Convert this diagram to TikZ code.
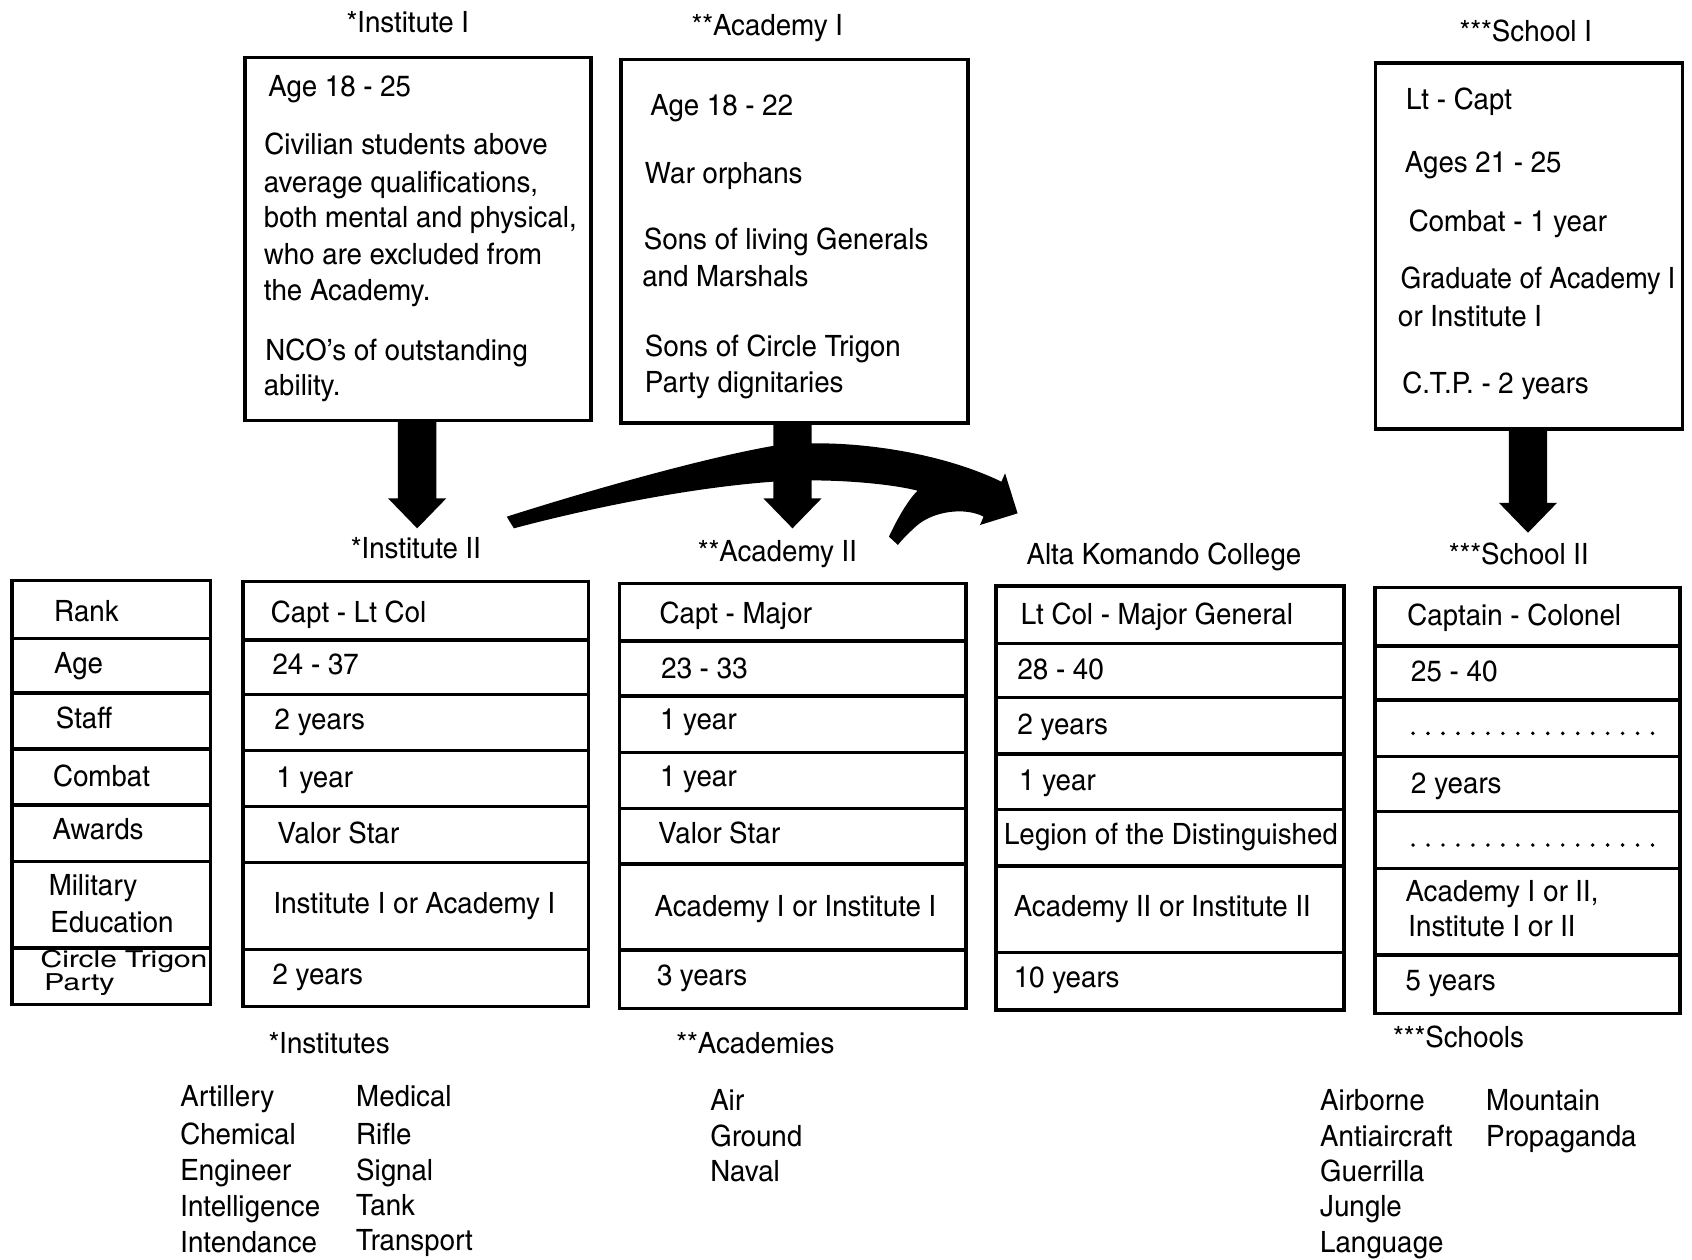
\documentclass[tikz,border=0pt]{standalone}
\usepackage{fontspec}
\setmainfont{texgyreheroscn}[Extension=.otf, UprightFont=*-regular, BoldFont=*-bold, ItalicFont=*-italic, BoldItalicFont=*-bolditalic, FakeStretch=1.15]
\usetikzlibrary{fit,calc}

% thick block arrow: shaft from the bottom of a box down to a tip coordinate
\newcommand\blockarrow[2]{%
  \fill let \p1=(#1.south), \p2=(#2) in
    (\x2-8.9pt,\y1) -- (\x2-8.9pt,\y2+13.9pt) -- (\x2-13.5pt,\y2+13.9pt) -- (\x2,\y2)
    -- (\x2+13.5pt,\y2+13.9pt) -- (\x2+8.9pt,\y2+13.9pt) -- (\x2+8.9pt,\y1) -- cycle;}

% one column of a table: a stack of framed cells
\newcommand\tablecol[4]{%
  \foreach \a/\b [count=\k] in {#4} \node[frame={(#2,\a) (#3,\b)}] (#1-\k) {};}

\begin{document}
\begin{tikzpicture}[x=0.5pt,y=-0.5pt,
  every node/.style={inner sep=0pt, outer sep=0pt, font=\fontsize{13.6}{15}\selectfont},
  frame/.style={draw, line width=1.6pt, inner sep=0pt, fit={#1}},
  txt/.style={anchor=base west},
  ctr/.style={anchor=base}]
\useasboundingbox (0,0) rectangle (1568,1167);

% ---------- entry requirements ----------
\node[ctr] (ttl-inst1) at (378,30.2) {*Institute I};
\node[ctr] (ttl-acad1) at (711,32.6) {**Academy I};
\node[ctr] (ttl-sch1) at (1414,38.4) {***School I};

\node[frame={(227,53.1) (547.5,389.5)}] (inst1) {};
\node[frame={(575.5,54.9) (897,392)}] (acad1) {};
\node[frame={(1274.6,58.3) (1559.3,397.7)}] (sch1) {};

\node[txt] (i1a) at (248.6,89.8) {Age 18 - 25};
\node[txt] (i1b) at (245,143.3) {Civilian students above};
\node[txt] (i1c) at (244.5,178.3) {average qualifications,};
\node[txt] (i1d) at (244.5,210.8) {both mental and physical,};
\node[txt] (i1e) at (244.5,245.1) {who are excluded from};
\node[txt] (i1f) at (244.5,278.4) {the Academy.};
\node[txt] (i1g) at (246,334.2) {NCO's of outstanding};
\node[txt] (i1h) at (244.5,366.8) {ability.};

\node[txt] (a1a) at (602.7,107) {Age 18 - 22};
\node[txt] (a1b) at (597.7,169.7) {War orphans};
\node[txt] (a1c) at (596.7,231.4) {Sons of living Generals};
\node[txt] (a1d) at (595.2,265.7) {and Marshals};
\node[txt] (a1e) at (597.7,330.8) {Sons of Circle Trigon};
\node[txt] (a1f) at (597.7,364) {Party dignitaries};

\node[txt] (s1a) at (1303,101.1) {Lt - Capt};
\node[txt] (s1b) at (1302,159.4) {Ages 21 - 25};
\node[txt] (s1c) at (1305.5,214.3) {Combat - 1 year};
\node[txt] (s1d) at (1298,267.4) {\scalebox{0.97}[1]{Graduate of Academy I}};
\node[txt] (s1e) at (1295.5,302.4) {or Institute I};
\node[txt] (s1f) at (1299.5,365) {C.T.P. - 2 years};

% ---------- arrows ----------
\coordinate (tip-inst) at (386.6,489.6);
\coordinate (tip-acad) at (734.4,489.6);
\coordinate (tip-sch) at (1416,493.7);
\blockarrow{inst1}{tip-inst}
\blockarrow{acad1}{tip-acad}
\blockarrow{sch1}{tip-sch}

% sweeping arrow towards the college
\fill (469.6,478.8) .. controls (560,450) and (660,423) .. (716,413.3)
  .. controls (780,405) and (870,418) .. (928,446.4) -- (931.4,438.6) -- (943,475.7)
  -- (908.2,486.5) -- (911.5,478.8) .. controls (895,470) and (865,473) .. (848.6,488)
  .. controls (842,494) and (836,500) .. (832.1,505) -- (823.8,497.3)
  .. controls (830,484) and (840,465) .. (850.3,454.7)
  .. controls (820,447) and (760,443) .. (716,446.4)
  .. controls (640,452) and (550,470) .. (476.2,489.6) -- cycle;

% ---------- career tables ----------
\node[ctr] (ttl-inst2) at (385.5,517.7) {*Institute II};
\node[ctr] (ttl-acad2) at (720.4,520) {**Academy II};
\node[ctr] (ttl-ak) at (1078.6,522.8) {Alta Komando College};
\node[ctr] (ttl-sch2) at (1407.5,522.8) {***School II};

\tablecol{lab}{11}{195}{538/591.5, 591.5/642, 642/694, 694/746, 746/798.5, 798.5/878.5, 878.5/931}
\tablecol{i2}{225}{545.5}{539/593, 593/643.5, 643.5/695.7, 695.7/747.6, 747.6/799.2, 799.2/879.8, 879.8/932.5}
\tablecol{a2}{574}{895}{540.5/594, 594/645, 645/697.4, 697.4/749, 749/800.7, 800.7/880.4, 880.4/934.5}
\tablecol{ak}{923}{1245.5}{543/596.2, 596.2/646.5, 646.5/698.7, 698.7/750, 750/802.6, 802.6/882.6, 882.6/935.8}
\tablecol{s2}{1274.4}{1556.7}{544.3/598.7, 598.7/648.7, 648.7/701.2, 701.2/752.2, 752.2/804.7, 804.7/885, 885/939}

\node[txt] (lab-t1) at (50.2,575.5) {Rank};
\node[txt] (lab-t2) at (50.2,624) {Age};
\node[txt] (lab-t3) at (51.7,675) {Staff};
\node[txt] (lab-t4) at (49.2,729) {Combat};
\node[txt] (lab-t5) at (48.7,777.8) {Awards};
\node[txt] (lab-t6a) at (45.2,830) {Military};
\node[txt] (lab-t6b) at (46.7,864) {Education};
% the last label is squeezed into its cell
\node[txt] (lab-t7a) at (37.7,896.5) {\scalebox{1.08}[0.8]{Circle Trigon}};
\node[txt] (lab-t7b) at (41.2,918) {\scalebox{1.08}[0.8]{Party}};

\node[txt] (i2-t1) at (251.1,577) {Capt - Lt Col};
\node[txt] (i2-t2) at (252.6,625.5) {24 - 37};
\node[txt] (i2-t3) at (254.6,675.9) {2 years};
\node[txt] (i2-t4) at (256.2,730) {1 year};
\node[txt] (i2-t5) at (257.2,781.5) {Valor Star};
\node[txt] (i2-t6) at (253.6,846.4) {Institute I or Academy I};
\node[txt] (i2-t7) at (252.6,912) {2 years};

\node[txt] (a2-t1) at (611.3,577.6) {Capt - Major};
\node[txt] (a2-t2) at (612.8,628.6) {23 - 33};
\node[txt] (a2-t3) at (611.7,676) {1 year};
\node[txt] (a2-t4) at (611.7,729) {1 year};
\node[txt] (a2-t5) at (610.2,782) {Valor Star};
\node[txt] (a2-t6) at (606.7,849) {Academy I or Institute I};
\node[txt] (a2-t7) at (608.7,913.7) {3 years};

\node[txt] (ak-t1) at (946,578.3) {Lt Col - Major General};
\node[txt] (ak-t2) at (943,630) {28 - 40};
\node[txt] (ak-t3) at (943,680.2) {2 years};
\node[txt] (ak-t4) at (944.5,733) {1 year};
\node[txt] (ak-t5) at (930.5,783) {Legion of the Distinguished};
\node[txt] (ak-t6) at (939.5,849.5) {Academy II or Institute II};
\node[txt] (ak-t7) at (939.5,915) {10 years};

\node[txt] (s2-t1) at (1304.3,580) {Captain - Colonel};
\node[txt] (s2-t2) at (1307.8,631.7) {25 - 40};
\node[txt] (s2-t4) at (1307.8,735) {2 years};
\node[txt] (s2-t6a) at (1302.5,835.6) {Academy I or II,};
\node[txt] (s2-t6b) at (1305.2,868) {Institute I or II};
\node[txt] (s2-t7) at (1302.5,917.5) {5 years};
\foreach \i in {0,...,16} {
  \fill (1309.5+\i*13.87,679.6) circle[radius=0.9pt];
  \fill (1309.5+\i*13.87,783.1) circle[radius=0.9pt];
}

% ---------- lists of branches ----------
\node[ctr] (ttl-insts) at (305,976.2) {*Institutes};
\node[txt] (in-1) at (167.1,1025) {Artillery};
\node[txt] (in-2) at (167.1,1061) {Chemical};
\node[txt] (in-3) at (167.1,1093.6) {Engineer};
\node[txt] (in-4) at (167.1,1127.5) {Intelligence};
\node[txt] (in-5) at (167.1,1160.9) {Intendance};
\node[txt] (in-6) at (330.1,1025.6) {Medical};
\node[txt] (in-7) at (330.1,1061) {Rifle};
\node[txt] (in-8) at (330.1,1093.6) {Signal};
\node[txt] (in-9) at (330.1,1126) {Tank};
\node[txt] (in-10) at (330.1,1159) {Transport};

\node[ctr] (ttl-acads) at (700,976.2) {**Academies};
\node[txt] (ac-1) at (658.2,1028.7) {Air};
\node[txt] (ac-2) at (658.2,1062.7) {Ground};
\node[txt] (ac-3) at (658.2,1095) {Naval};

\node[ctr] (ttl-schs) at (1351.6,970.9) {***Schools};
\node[txt] (sc-1) at (1223.4,1028.7) {Airborne};
\node[txt] (sc-2) at (1223.4,1062.7) {Antiaircraft};
\node[txt] (sc-3) at (1223.4,1095) {Guerrilla};
\node[txt] (sc-4) at (1223.4,1127.5) {Jungle};
\node[txt] (sc-5) at (1223.4,1160.9) {Language};
\node[txt] (sc-6) at (1377.2,1028.7) {Mountain};
\node[txt] (sc-7) at (1377.2,1062.7) {Propaganda};
\end{tikzpicture}
\end{document}
